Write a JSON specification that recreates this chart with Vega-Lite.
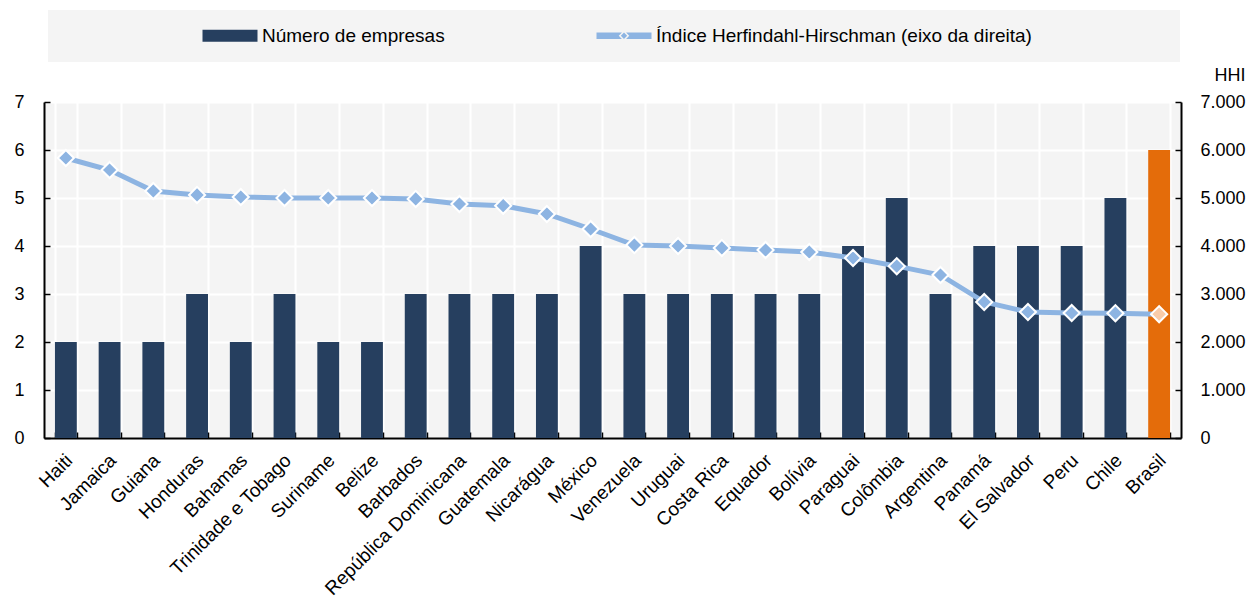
{
  "$schema": "https://vega.github.io/schema/vega-lite/v6.json",
  "width": 1137,
  "height": 336,
  "autosize": {"type": "none"},
  "padding": {"left": 44, "top": 102, "right": 69, "bottom": 162},
  "background": "white",
  "config": {
    "font": "Liberation Sans",
    "view": {"fill": "#F4F4F4", "stroke": null},
    "axis": {"labelColor": "black", "labelFontSize": 18, "titleColor": "black", "domainColor": "black", "domainWidth": 2, "tickColor": "black", "tickWidth": 1.5}
  },
  "data": {
    "values": [
      {"pais": "Haiti", "empresas": 2, "hhi": 5833},
      {"pais": "Jamaica", "empresas": 2, "hhi": 5583},
      {"pais": "Guiana", "empresas": 2, "hhi": 5146},
      {"pais": "Honduras", "empresas": 3, "hhi": 5063},
      {"pais": "Bahamas", "empresas": 2, "hhi": 5021},
      {"pais": "Trinidade e Tobago", "empresas": 3, "hhi": 5000},
      {"pais": "Suriname", "empresas": 2, "hhi": 5000},
      {"pais": "Belize", "empresas": 2, "hhi": 5000},
      {"pais": "Barbados", "empresas": 3, "hhi": 4980},
      {"pais": "República Dominicana", "empresas": 3, "hhi": 4875},
      {"pais": "Guatemala", "empresas": 3, "hhi": 4840},
      {"pais": "Nicarágua", "empresas": 3, "hhi": 4667},
      {"pais": "México", "empresas": 4, "hhi": 4354},
      {"pais": "Venezuela", "empresas": 3, "hhi": 4020},
      {"pais": "Uruguai", "empresas": 3, "hhi": 4000},
      {"pais": "Costa Rica", "empresas": 3, "hhi": 3960},
      {"pais": "Equador", "empresas": 3, "hhi": 3917},
      {"pais": "Bolívia", "empresas": 3, "hhi": 3875},
      {"pais": "Paraguai", "empresas": 4, "hhi": 3750},
      {"pais": "Colômbia", "empresas": 5, "hhi": 3580},
      {"pais": "Argentina", "empresas": 3, "hhi": 3396},
      {"pais": "Panamá", "empresas": 4, "hhi": 2833},
      {"pais": "El Salvador", "empresas": 4, "hhi": 2625},
      {"pais": "Peru", "empresas": 4, "hhi": 2604},
      {"pais": "Chile", "empresas": 5, "hhi": 2600},
      {"pais": "Brasil", "empresas": 6, "hhi": 2580}
    ]
  },
  "encoding": {
    "x": {
      "field": "pais", "type": "nominal", "sort": null,
      "scale": {"paddingInner": 0.5, "paddingOuter": 0.25},
      "axis": {
        "title": null, "labelAngle": -45, "labelAlign": "right", "labelBaseline": "middle",
        "labelFontSize": 19, "labelPadding": 25, "labelOffset": 3, "labelLimit": 400,
        "tickBand": "extent", "tickSize": -6,
        "grid": true, "gridColor": "white", "gridWidth": 2
      }
    }
  },
  "layer": [
    {
      "mark": {"type": "bar"},
      "encoding": {
        "y": {
          "field": "empresas", "type": "quantitative",
          "scale": {"domain": [0, 7]},
          "axis": {"title": null, "values": [0, 1, 2, 3, 4, 5, 6, 7], "grid": true, "gridColor": "white", "gridWidth": 2, "tickSize": -6, "labelPadding": 26}
        },
        "color": {
          "condition": {"test": "datum.pais === 'Brasil'", "value": "#E46C0A"},
          "datum": "Número de empresas",
          "type": "nominal",
          "scale": {
            "domain": ["Número de empresas", "Índice Herfindahl-Hirschman (eixo da direita)"],
            "range": ["#263F5F", "#8DB4E2"]
          },
          "legend": {
            "title": ".", "titleOrient": "left", "titleFontSize": 1, "titleColor": "#F4F4F4", "titlePadding": 135,
            "orient": "none", "legendX": 4, "legendY": -92, "direction": "horizontal",
            "fillColor": "#F4F4F4", "padding": 16, "columnPadding": 149,
            "symbolSize": 196, "labelOffset": 43, "labelFontSize": 19, "labelColor": "black", "labelLimit": 900,
            "labelExpr": "datum.label === 'Número de empresas' ? datum.label : datum.label + '\u00a0\u2800\u2800\u2800\u2800\u2800\u2800\u2800\u2800\u2800'",
            "encode": {
              "symbols": {
                "update": {
                  "shape": {"signal": "datum.value === 'Número de empresas' ? 'M-1,-0.857H6.857V0.857H-1Z' : 'M-1,-0.457H2.636L2.179,0L2.636,0.457H-1Z M3.222,-0.457H6.857V0.457H3.222L3.679,0Z M2.929,-0.45L3.379,0L2.929,0.45L2.479,0Z'"},
                  "fill": {"signal": "datum.value === 'Número de empresas' ? '#263F5F' : '#8DB4E2'"},
                  "fillOpacity": {"value": 1},
                  "opacity": {"value": 1},
                  "stroke": {"value": "transparent"},
                  "strokeWidth": {"value": 0}
                }
              }
            }
          }
        }
      }
    },
    {
      "encoding": {
        "y": {
          "field": "hhi", "type": "quantitative",
          "scale": {"domain": [0, 7000]},
          "axis": {
            "orient": "right", "title": "HHI", "titleAngle": 0, "titleX": 64, "titleY": -27,
            "titleAlign": "right", "titleBaseline": "middle", "titleFontWeight": "normal", "titleFontSize": 18,
            "values": [0, 1000, 2000, 3000, 4000, 5000, 6000, 7000],
            "labelExpr": "replace(format(datum.value, ',d'), ',', '.')",
            "grid": false, "tickSize": -6, "labelPadding": 25
          }
        }
      },
      "layer": [
        {
          "mark": {"type": "line", "strokeWidth": 5},
          "encoding": {
            "color": {"datum": "Índice Herfindahl-Hirschman (eixo da direita)", "type": "nominal"}
          }
        },
        {
          "mark": {"type": "point", "shape": "diamond", "filled": true, "size": 260, "stroke": "white", "strokeWidth": 2, "opacity": 1},
          "encoding": {
            "fill": {
              "condition": {"test": "datum.pais === 'Brasil'", "value": "#F9CCAA"},
              "value": "#8DB4E2"
            }
          }
        }
      ]
    }
  ],
  "resolve": {"scale": {"y": "independent"}}
}
